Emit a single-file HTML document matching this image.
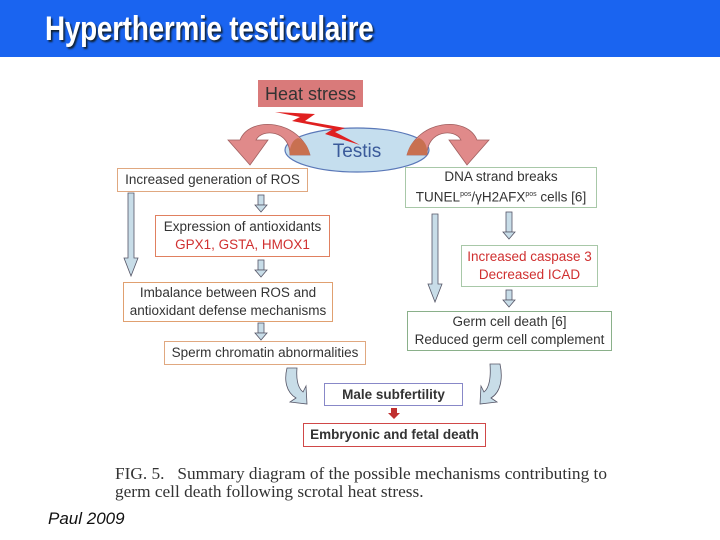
<!DOCTYPE html>
<html><head><meta charset="utf-8"><style>
body{margin:0;width:720px;height:540px;background:#fff;position:relative;overflow:hidden;font-family:"Liberation Sans",sans-serif}
.hdr{position:absolute;left:0;top:0;width:720px;height:57px;background:#1a64f0}
.hdr span{position:absolute;left:45px;top:10px;color:#fff;font-weight:bold;font-size:34px;text-shadow:2px 2px 2px #123;letter-spacing:-0.3px;transform:scaleX(0.82);transform-origin:left;white-space:nowrap}
.b{position:absolute;box-sizing:border-box;background:#fff;text-align:center;font-size:13.5px;color:#333;line-height:18px;display:flex;flex-direction:column;justify-content:center;white-space:nowrap}
.r{color:#d03030}
.cap{position:absolute;left:115px;top:465px;font-family:"Liberation Serif",serif;font-size:17.3px;color:#333;line-height:18px;white-space:nowrap}
</style></head><body>
<div class="hdr"><span>Hyperthermie testiculaire</span></div>
<svg width="720" height="540" style="position:absolute;left:0;top:0">
<defs>
<g id="sa"><rect x="-3" y="0" width="6" height="10" fill="#c8dde8" stroke="#556" stroke-width="0.8"/><path d="M-6 10 L6 10 L0 17 Z" fill="#c8dde8" stroke="#556" stroke-width="0.8"/></g>
<g id="sb"><rect x="-3" y="0" width="6" height="20" fill="#c8dde8" stroke="#556" stroke-width="0.8"/><path d="M-6 20 L6 20 L0 27 Z" fill="#c8dde8" stroke="#556" stroke-width="0.8"/></g>
</defs>
<rect x="258" y="80" width="105" height="27" fill="#d97a7a"/>
<text x="310.5" y="100" text-anchor="middle" font-size="18" fill="#333">Heat stress</text>
<ellipse cx="357" cy="150" rx="72" ry="22" fill="#c5deee" stroke="#5a78b8" stroke-width="1.2"/>
<text x="357" y="157" text-anchor="middle" font-size="19" fill="#3a5a9a">Testis</text>
<path d="M275 112 L315 114 L305 121 L345 128 L335 132 L360 145 L325 134 L333 129 L292 121 L300 117 Z" fill="#e02020"/>
<path d="M310 155 C300 120 250 115 240 140 L228 140 L250 165 L268 140 L256 140 C262 128 290 130 290 155 Z" fill="#e08a8a" stroke="#a06060" stroke-width="0.8"/>
<path d="M290 155 L310 155 C308 145 303 140 298 138 C292 140 289 148 290 155Z" fill="#c87050"/>
<path d="M407 155 C417 120 467 115 477 140 L489 140 L467 165 L449 140 L461 140 C455 128 427 130 427 155 Z" fill="#e08a8a" stroke="#a06060" stroke-width="0.8"/>
<path d="M427 155 L407 155 C409 145 414 140 419 138 C425 140 428 148 427 155Z" fill="#c87050"/>
<g fill="#c8dde8" stroke="#556" stroke-width="0.8">
<path d="M128 193 L134 193 L134 258 L138 258 L131 276 L124 258 L128 258 Z"/>
<path d="M432 214 L438 214 L438 284 L442 284 L435 302 L428 284 L432 284 Z"/>
<path d="M287 368 L297 368 C296 380 298 388 303 392 L306 386 L307 404 L290 402 L296 398 C286 392 284 380 287 368 Z"/>
<path d="M500 364 L490 364 C491 378 489 388 484 392 L481 386 L480 404 L497 402 L491 398 C501 392 503 378 500 364 Z"/>
</g>
<use href="#sa" x="261" y="195"/>
<use href="#sa" x="261" y="260"/>
<use href="#sa" x="261" y="323"/>
<use href="#sb" x="509" y="212"/>
<use href="#sa" x="509" y="290"/>
<path d="M391 408 L397 408 L397 413 L400 413 L394 419 L388 413 L391 413Z" fill="#c03030"/>
</svg>
<div class="b" style="left:117px;top:168px;width:191px;height:24px;border:1px solid #e0a880">Increased generation of ROS</div>
<div class="b" style="left:405px;top:167px;width:192px;height:41px;border:1px solid #a8c8a8">DNA strand breaks<span>TUNEL<sup style="font-size:7px">pos</sup>/γH2AFX<sup style="font-size:7px">pos</sup> cells [6]</span></div>
<div class="b" style="left:155px;top:215px;width:175px;height:42px;border:1px solid #e08060">Expression of antioxidants<span class="r">GPX1, GSTA, HMOX1</span></div>
<div class="b" style="left:123px;top:282px;width:210px;height:40px;border:1px solid #e0a070">Imbalance between ROS and<br>antioxidant defense mechanisms</div>
<div class="b" style="left:164px;top:341px;width:202px;height:24px;border:1px solid #e0a880">Sperm chromatin abnormalities</div>
<div class="b r" style="left:461px;top:245px;width:137px;height:42px;border:1px solid #a8c8a8">Increased caspase 3<br>Decreased ICAD</div>
<div class="b" style="left:407px;top:311px;width:205px;height:40px;border:1px solid #8ab08a">Germ cell death [6]<br>Reduced germ cell complement</div>
<div class="b" style="left:324px;top:383px;width:139px;height:23px;border:1px solid #8888c8;font-weight:bold">Male subfertility</div>
<div class="b" style="left:303px;top:423px;width:183px;height:24px;border:1px solid #d04848;font-weight:bold">Embryonic and fetal death</div>
<div class="cap">FIG. 5.&nbsp;&nbsp; Summary diagram of the possible mechanisms contributing to<br>germ cell death following scrotal heat stress.</div>
<div style="position:absolute;left:48px;top:509px;font-style:italic;font-size:17px;color:#111">Paul 2009</div>
</body></html>
